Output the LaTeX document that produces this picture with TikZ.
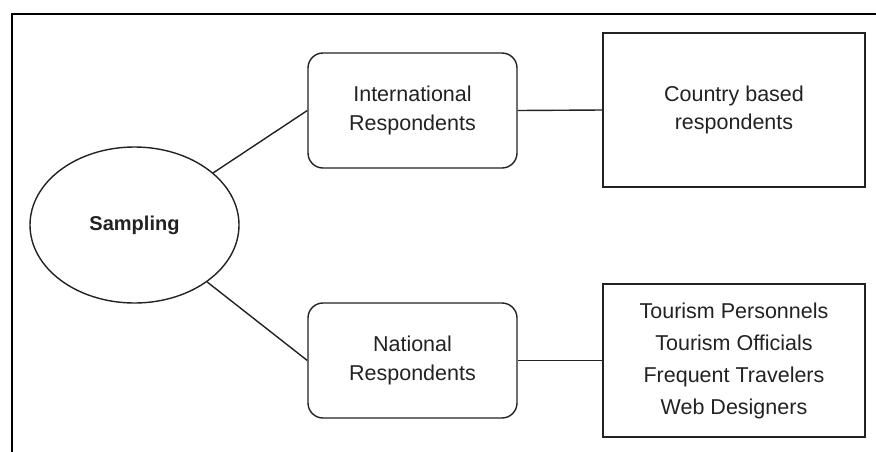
\documentclass[tikz,border=0pt]{standalone}
\usepackage{fontspec}
\setmainfont{Liberation Sans}
\usetikzlibrary{shapes.geometric}
\definecolor{ink}{HTML}{222222}
\begin{document}
\begin{tikzpicture}[x=1pt,y=-1pt,
  base/.style={draw=ink, line width=1.4pt, text=ink, inner sep=0pt, align=center,
    font=\fontsize{21.5}{28.5}\selectfont},
  roundbox/.style={base, rounded corners=15pt, minimum width=209pt, minimum height=115pt},
  sqbox/.style={base, minimum width=262pt, minimum height=154pt},
  conn/.style={draw=ink, line width=1.4pt}]
\useasboundingbox (0,0) rectangle (876,451);
\draw[line width=2.2pt, black] (12,460) -- (12,14) -- (885,14);
\node[base, ellipse, minimum width=209pt, minimum height=156pt,
  font=\bfseries\fontsize{20}{24}\selectfont] (samp) at (134.5,225) {Sampling};
\node[roundbox] (intl) at (412.5,110.5) {International\\Respondents};
\node[roundbox] (natl) at (412.5,360.5) {National\\Respondents};
\node[sqbox] (ctry) at (734,110) {Country based\\respondents};
\node[sqbox, minimum height=153pt, font=\fontsize{21.5}{32}\selectfont] (tour) at (734,360.5)
  {Tourism Personnels\\Tourism Officials\\Frequent Travelers\\Web Designers};
\draw[conn] (samp) -- (intl.west);
\draw[conn] (samp) -- (natl.west);
\draw[conn] (intl.east) -- (ctry.west);
\draw[conn] (natl.east) -- (tour.west);
\end{tikzpicture}
\end{document}
